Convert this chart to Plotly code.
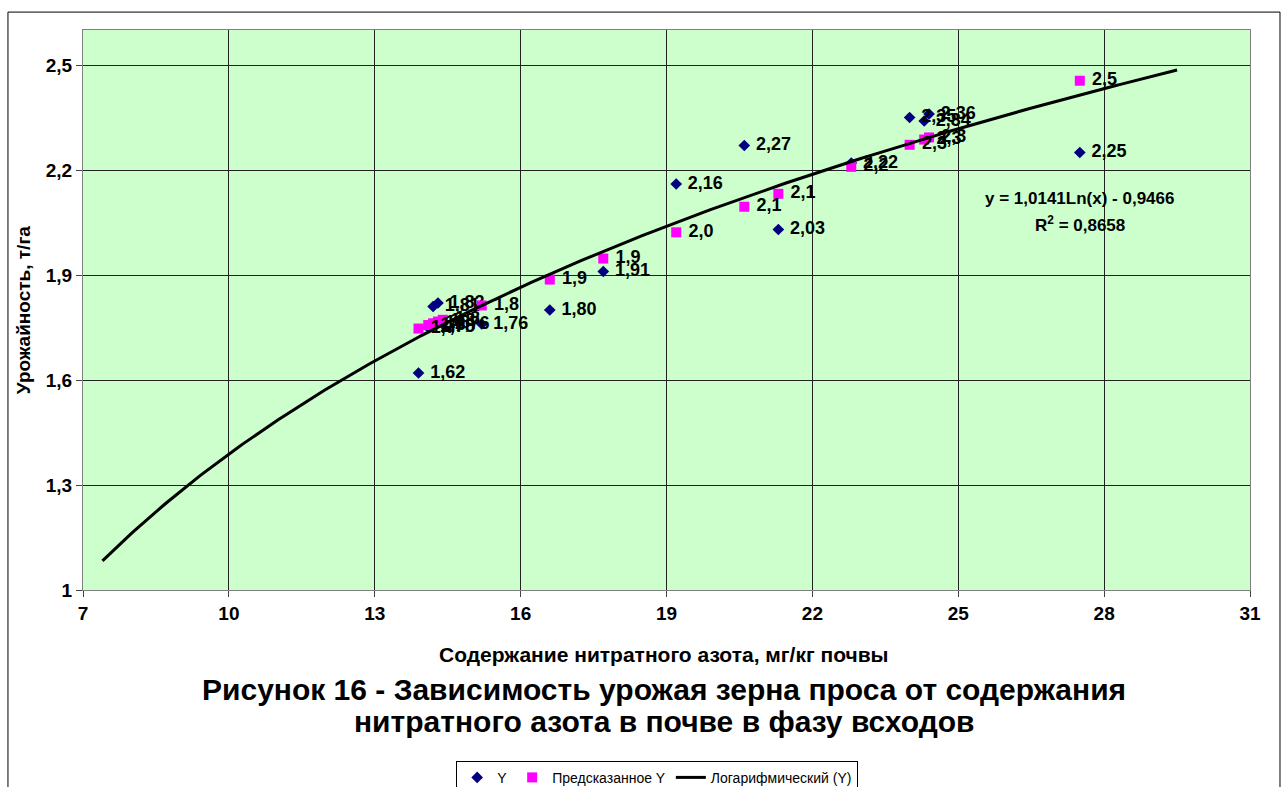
import numpy as np
import plotly.graph_objects as go

# Nitrate nitrogen in soil (mg/kg) and millet yield (t/ha)
nitrate = [13.9, 14.1, 14.2, 14.3, 14.4, 15.2, 16.6, 17.7, 19.2, 20.6, 21.3, 22.8, 24.0, 24.3, 24.4, 27.5]
yield_obs = [1.62, 1.75, 1.81, 1.82, 1.76, 1.76, 1.80, 1.91, 2.16, 2.27, 2.03, 2.22, 2.35, 2.34, 2.36, 2.25]
yield_pred = [1.747, 1.757, 1.762, 1.767, 1.772, 1.813, 1.887, 1.947, 2.022, 2.095, 2.132, 2.209, 2.272, 2.287, 2.293, 2.455]

# Logarithmic trend: y = a*ln(x) + b
trend_a = 1.0141
trend_b = -0.9466
trend_r2 = 0.8658
trend_x_start = 7.4
trend_x_end = 29.5

x_ticks = [7, 10, 13, 16, 19, 22, 25, 28, 31]
y_ticks = [1.0, 1.3, 1.6, 1.9, 2.2, 2.5]
y_tick_text = ["1", "1,3", "1,6", "1,9", "2,2", "2,5"]

caption_lines = [
    "Рисунок 16 - Зависимость урожая зерна проса от содержания",
    "нитратного азота в почве в фазу всходов",
]

FONT = "Liberation Sans, Arial, sans-serif"


def ru(v, nd):
    return f"{v:.{nd}f}".replace(".", ",")


tx = np.linspace(trend_x_start, trend_x_end, 300)
ty = trend_a * np.log(tx) + trend_b

label_font = dict(family=FONT, size=18, color="black", weight="bold")

fig = go.Figure()

fig.add_trace(go.Scatter(
    x=nitrate, y=yield_obs, mode="markers+text", name="Y",
    marker=dict(symbol="diamond", size=9, color="#000080"),
    text=[" " + ru(v, 2) for v in yield_obs], textposition="middle right",
    textfont=label_font,
))
fig.add_trace(go.Scatter(
    x=nitrate, y=yield_pred, mode="markers+text", name="Предсказанное Y",
    marker=dict(symbol="square", size=10, color="#FF00FF"),
    text=[" " + ru(v, 1) for v in yield_pred], textposition="middle right",
    textfont=label_font,
))
fig.add_trace(go.Scatter(
    x=tx, y=ty, mode="lines", name="Логарифмический (Y)",
    line=dict(color="black", width=3),
))

axis_common = dict(
    showgrid=True, gridcolor="#222222", gridwidth=1,
    showline=True, linecolor="#808080", linewidth=1, mirror=True,
    ticks="outside", ticklen=6, tickcolor="#444444",
    tickfont=dict(family=FONT, size=19, color="black", weight="bold"),
    zeroline=False,
)

fig.update_layout(
    width=1283, height=787,
    margin=dict(l=83, r=33, t=30, b=197, autoexpand=False),
    paper_bgcolor="white", plot_bgcolor="#CCFFCC",
    font=dict(family=FONT, color="black"),
    xaxis=dict(range=[7, 31], tickvals=x_ticks, **axis_common),
    yaxis=dict(range=[1.0, 2.6], tickvals=y_ticks, ticktext=y_tick_text, **axis_common),
    showlegend=True,
    legend=dict(
        orientation="h", x=0.492, xanchor="center", y=-0.305, yanchor="top",
        bordercolor="black", borderwidth=1, bgcolor="white",
        font=dict(family=FONT, size=14, color="black"),
        itemwidth=30,
    ),
)

# Axis titles, figure caption and trend equation
fig.add_annotation(
    text="Урожайность, т/га", xref="paper", yref="paper",
    x=-0.062, y=0.5, textangle=-90, showarrow=False,
    font=dict(family=FONT, size=19, color="black", weight="bold"),
)
fig.add_annotation(
    text="Содержание нитратного азота, мг/кг почвы", xref="paper", yref="paper",
    x=0.498, y=-0.116, yanchor="middle", showarrow=False,
    font=dict(family=FONT, size=21, color="black", weight="bold"),
)
for line, ypos in zip(caption_lines, [-0.177, -0.234]):
    fig.add_annotation(
        text=line, xref="paper", yref="paper", x=0.498, y=ypos,
        yanchor="middle", showarrow=False,
        font=dict(family=FONT, size=30, color="black", weight="bold"),
    )
fig.add_annotation(
    text=f"y = {ru(trend_a, 4)}Ln(x) - {ru(-trend_b, 4)}",
    x=27.5, y=2.118, xref="x", yref="y", showarrow=False,
    font=dict(family=FONT, size=17, color="black", weight="bold"),
)
fig.add_annotation(
    text=f"R<sup>2</sup> = {ru(trend_r2, 4)}",
    x=27.5, y=2.046, xref="x", yref="y", showarrow=False,
    font=dict(family=FONT, size=17, color="black", weight="bold"),
)

# Outer chart frame
fig.add_shape(
    type="rect", xref="paper", yref="paper",
    x0=-0.0643, x1=1.0257, y0=-0.45, y1=1.032,
    line=dict(color="black", width=1), fillcolor="rgba(0,0,0,0)", layer="below",
)

fig.write_html("out.html")
